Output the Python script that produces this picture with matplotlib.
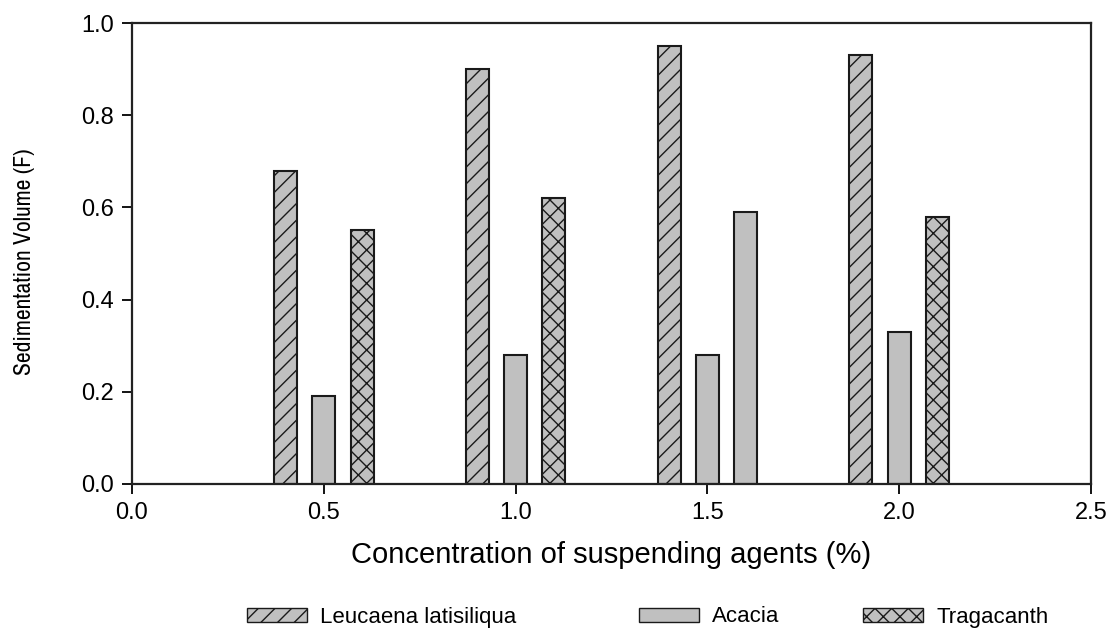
import matplotlib
matplotlib.use("Agg")
import matplotlib.pyplot as plt
from matplotlib.patches import Patch
from matplotlib import font_manager as fm

plt.rcParams['font.family'] = ['Liberation Sans', 'DejaVu Sans']
plt.rcParams['hatch.linewidth'] = 1.0

concentrations = [0.5, 1.0, 1.5, 2.0]
leucaena = [0.68, 0.90, 0.95, 0.93]
acacia = [0.19, 0.28, 0.28, 0.33]
tragacanth = [0.55, 0.62, 0.59, 0.58]
trag_hatches = ['xx', 'xx', '', 'xx']
series_names = ['Leucaena latisiliqua', 'Acacia', 'Tragacanth']
xticks = [0.0, 0.5, 1.0, 1.5, 2.0, 2.5]
yticks = [0.0, 0.2, 0.4, 0.6, 0.8, 1.0]

fill = '#c0c0c0'
edge = '#1a1a1a'
width = 0.06
offsets = [-0.1, 0.0, 0.1]

W, H = 1110, 628
fig = plt.figure(figsize=(W / 100, H / 100), dpi=100)
ax = fig.add_axes([132 / W, 1 - 484 / H, (1091 - 132) / W, (484 - 23) / H])

xs = [c + offsets[0] for c in concentrations]
ax.bar(xs, leucaena, width=width, color=fill, edgecolor=edge, linewidth=1.5, hatch='//')
xs = [c + offsets[1] for c in concentrations]
ax.bar(xs, acacia, width=width, color=fill, edgecolor=edge, linewidth=1.5)
xs = [c + offsets[2] for c in concentrations]
bars = ax.bar(xs, tragacanth, width=width, color=fill, edgecolor=edge, linewidth=1.5)
for b, h in zip(bars, trag_hatches):
    b.set_hatch(h)

ax.set_xlim(0, 2.5)
ax.set_ylim(0, 1.0)
ax.set_xticks(xticks)
ax.set_xticklabels([f"{t:.1f}" for t in xticks])
ax.set_yticks(yticks)
ax.set_yticklabels([f"{t:.1f}" for t in yticks])
ax.tick_params(direction='out', length=7, width=1.3, labelsize=17, pad=6)
for s in ax.spines.values():
    s.set_linewidth(1.6)
    s.set_color('#222222')

ax.set_xlabel('Concentration of suspending agents (%)', fontsize=21, labelpad=12)

narrow = None
for f in fm.fontManager.ttflist:
    if 'Narrow' in f.name:
        narrow = f.name
        break
ylab_family = [narrow, 'Liberation Sans'] if narrow else ['Liberation Sans']
fig.text(25 / W, 1 - 262 / H, 'Sedimentation Volume (F)', rotation=90, ha='center', va='center',
         fontsize=17, family=ylab_family)

handles = [Patch(facecolor=fill, edgecolor=edge, hatch='//'),
           Patch(facecolor=fill, edgecolor=edge),
           Patch(facecolor=fill, edgecolor=edge, hatch='xx')]
legend_x = [247, 639, 863]
for h, name, lx in zip(handles, series_names, legend_x):
    fig.legend([h], [name], loc='center left', bbox_to_anchor=(lx / W, 1 - 617 / H),
               frameon=False, fontsize=16, handlelength=2.7, handleheight=0.6,
               handletextpad=0.6, borderaxespad=0, borderpad=0)

fig.savefig('out.png', dpi=100)
